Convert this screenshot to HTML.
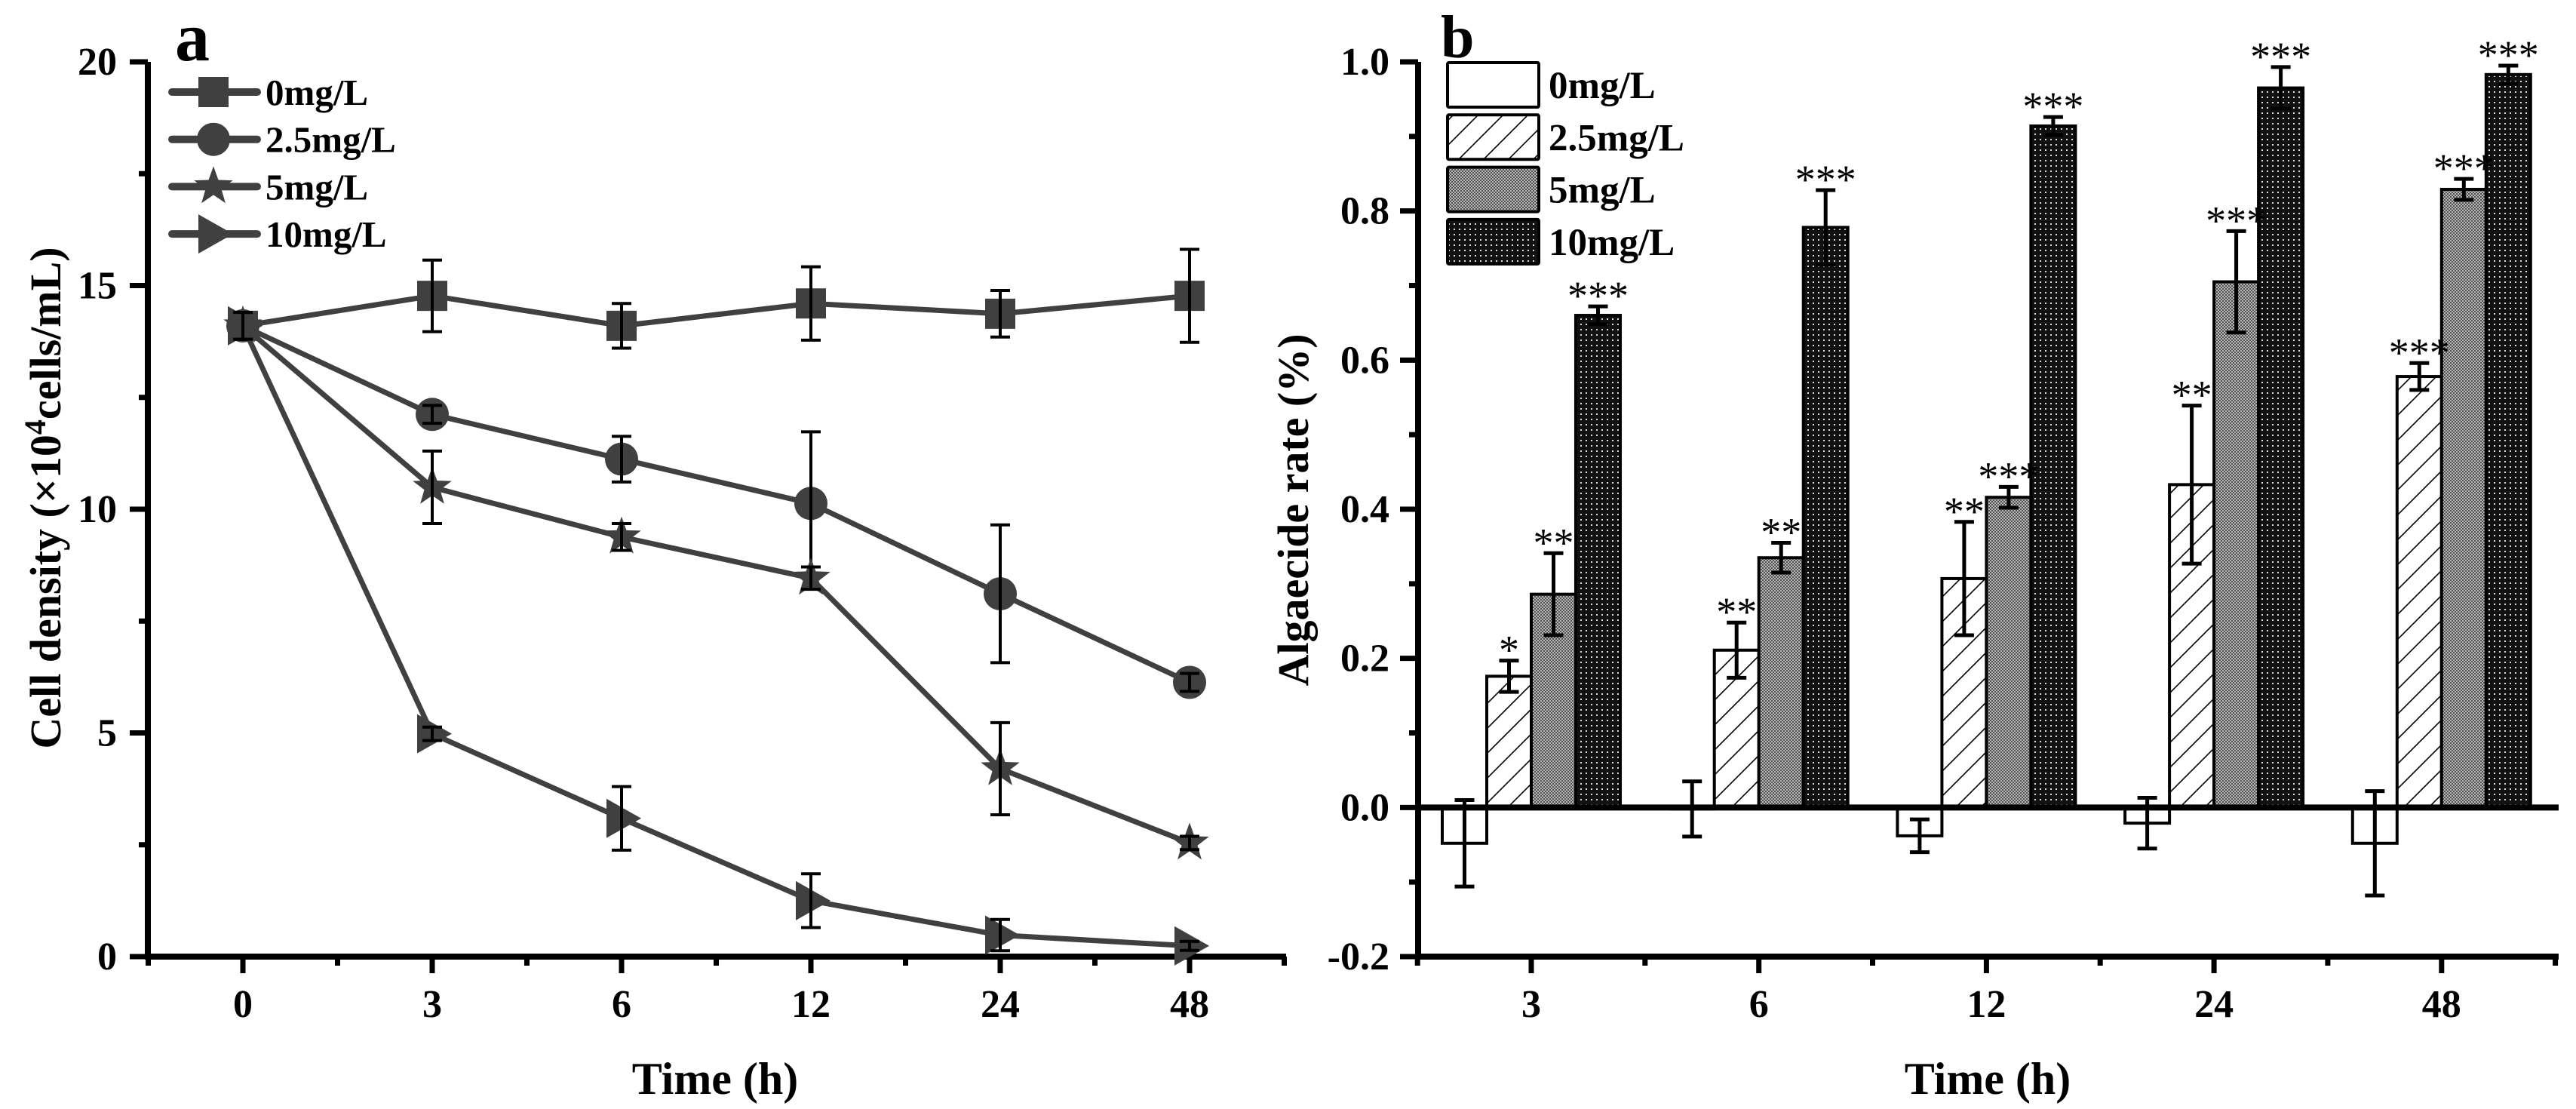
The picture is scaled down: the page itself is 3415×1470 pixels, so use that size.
<!DOCTYPE html>
<html><head><meta charset="utf-8"><style>
html,body{margin:0;padding:0;background:#fff;}
svg{display:block;font-family:"Liberation Serif",serif;}
</style></head><body>
<svg id="chart" width="3415" height="1470" viewBox="0 0 3415 1470" xmlns="http://www.w3.org/2000/svg">
<defs>
<pattern id="hatch" patternUnits="userSpaceOnUse" width="33" height="33">
<rect width="33" height="33" fill="#fff"/><path d="M-8,41 L41,-8 M-8,8 L8,-8 M25,41 L41,25" stroke="#000" stroke-width="1.6"/>
</pattern>
<pattern id="gray" patternUnits="userSpaceOnUse" width="4" height="4">
<rect width="4" height="4" fill="#b8b8b8"/><rect width="2" height="2" fill="#505050"/><rect x="2" y="2" width="2" height="2" fill="#505050"/>
</pattern>
<pattern id="dark" patternUnits="userSpaceOnUse" width="7" height="7">
<rect width="7" height="7" fill="#111"/><rect x="2" y="2" width="2" height="2" fill="#ddd"/>
</pattern>
</defs>
<g id="pa"></g>
<g id="pb"></g>
</svg>
<script>
// ---- Panel a data ----
const timeLabels = ["0","3","6","12","24","48"];
const seriesNames = ["0mg/L","2.5mg/L","5mg/L","10mg/L"];
const s0 = [14.1,14.77,14.1,14.6,14.37,14.77];
const s0err = [0.3,0.8,0.5,0.82,0.52,1.04];
const s25 = [14.1,12.12,11.12,10.13,8.11,6.13];
const s25err = [0.3,0.2,0.51,1.6,1.54,0.2];
const s5 = [14.1,10.49,9.38,8.46,4.2,2.54];
const s5err = [0.3,0.81,0.3,0.25,1.03,0.15];
const s10 = [14.1,4.98,3.09,1.25,0.48,0.24];
const s10err = [0.3,0.15,0.71,0.6,0.35,0.1];
const aTicks = [0,5,10,15,20];
// ---- Panel b data ----
const bCats = ["3","6","12","24","48"];
const b0 = [-0.048,-0.002,-0.038,-0.021,-0.048];
const b0err = [0.058,0.037,0.022,0.034,0.07];
const b25 = [0.176,0.211,0.307,0.433,0.578];
const b25err = [0.021,0.037,0.076,0.106,0.018];
const b5 = [0.286,0.335,0.416,0.705,0.829];
const b5err = [0.055,0.02,0.014,0.068,0.014];
const b10 = [0.66,0.778,0.914,0.965,0.983];
const b10err = [0.012,0.05,0.012,0.028,0.012];
const sig25 = ["*","**","**","**","***"];
const sig5 = ["**","**","***","***","***"];
const sig10 = ["***","***","***","***","***"];
const bTicks = [-0.2,0,0.2,0.4,0.6,0.8,1.0];

const NS="http://www.w3.org/2000/svg";
function mk(parent,tag,attrs,text){const e=document.createElementNS(NS,tag);for(const k in attrs)e.setAttribute(k,attrs[k]);if(text!==undefined)e.textContent=text;parent.appendChild(e);return e;}

// ===== Panel A =====
const pa=document.getElementById('pa');
const axL=196, axR=1705, axT=82, axB=1268;
const xa=i=>322+i*251;
const ya=v=>axB-(v/20)*(axB-axT);
let el;
el=mk(pa,'line',{x1:axL,y1:axT,x2:axL,y2:axB+4,stroke:'#000','stroke-width':8});

el=mk(pa,'line',{x1:axL-4,y1:axB,x2:axR,y2:axB,stroke:'#000','stroke-width':8});

for(let v=0;v<=20;v+=2.5){const maj=v%5===0;mk(pa,'line',{x1:axL-(maj?24:12),y1:ya(v),x2:axL,y2:ya(v),stroke:'#000','stroke-width':7});}
aTicks.forEach(v=>{el=mk(pa,'text',{x:155,y:ya(v)+17,'text-anchor':'end','font-size':52,'font-weight':'bold'},String(v));
});
timeLabels.forEach((t,i)=>{mk(pa,'line',{x1:xa(i),y1:axB,x2:xa(i),y2:axB+22,stroke:'#000','stroke-width':7});
 mk(pa,'line',{x1:xa(i)+125.5,y1:axB,x2:xa(i)+125.5,y2:axB+12,stroke:'#000','stroke-width':7});
 el=mk(pa,'text',{x:xa(i),y:1348,'text-anchor':'middle','font-size':52,'font-weight':'bold'},t);
 });
mk(pa,'line',{x1:xa(0)-125.5,y1:axB,x2:xa(0)-125.5,y2:axB+12,stroke:'#000','stroke-width':7});
el=mk(pa,'text',{x:948,y:1450,'text-anchor':'middle','font-size':60,'font-weight':'bold'},'Time (h)');

el=mk(pa,'text',{x:0,y:0,transform:'translate(80,660) rotate(-90)','text-anchor':'middle','font-size':58,'font-weight':'bold'});

mk(el,'tspan',{},'Cell density (×10');mk(el,'tspan',{dy:-20,'font-size':40},'4');mk(el,'tspan',{dy:20},'cells/mL)');
el=mk(pa,'text',{x:232,y:80,'font-size':92,'font-weight':'bold'},'a');


const GR='#404040';
function marker(g,type,cx,cy){
 if(type===0) return mk(g,'rect',{x:cx-20,y:cy-20,width:40,height:40,fill:GR});
 if(type===1) return mk(g,'circle',{cx:cx,cy:cy,r:22,fill:GR});
 if(type===2){let p=[];for(let k=0;k<10;k++){const r=k%2?11:27;const a=-Math.PI/2+k*Math.PI/5;p.push((cx+r*Math.cos(a)).toFixed(1)+','+(cy+r*Math.sin(a)).toFixed(1));}return mk(g,'polygon',{points:p.join(' '),fill:GR});}
 return mk(g,'polygon',{points:`${cx-20},${cy-26} ${cx+26},${cy} ${cx-20},${cy+26}`,fill:GR});
}
const allS=[s0,s25,s5,s10], allE=[s0err,s25err,s5err,s10err];
const names=['series-0mg','series-2-5mg','series-5mg','series-10mg'];
allS.forEach((s,si)=>{
 const g=mk(pa,'g',{});
 
 el=mk(g,'polyline',{points:s.map((v,i)=>xa(i)+','+ya(v)).join(' '),fill:'none',stroke:GR,'stroke-width':7});
 
 s.forEach((v,i)=>{el=marker(g,si,xa(i),ya(v));
  });
 s.forEach((v,i)=>{const e=allE[si][i];const x=xa(i);
  el=mk(g,'path',{d:`M${x},${ya(v+e)}V${ya(v-e)}M${x-13},${ya(v+e)}h26M${x-13},${ya(v-e)}h26`,stroke:'#000','stroke-width':4,fill:'none'});
  });
});
const lg=mk(pa,'g',{});

seriesNames.forEach((n,i)=>{const y=122+i*62.7;
 const g=mk(lg,'g',{});
 
 mk(g,'line',{x1:228,y1:y,x2:341,y2:y,stroke:GR,'stroke-width':10,'stroke-linecap':'round'});
 marker(g,i,283,y);
 mk(g,'text',{x:352,y:y+17,'font-size':49,'font-weight':'bold'},n);});

// ===== Panel B =====
const pb=document.getElementById('pb');
const bL=1880,bR=3392,bT=82,bB=1268;
const yb=v=>bB-((v+0.2)/1.2)*(bB-bT);
const xb=i=>2030+i*301.7;
const BW=59;
el=mk(pb,'line',{x1:bL,y1:bT,x2:bL,y2:bB+4,stroke:'#000','stroke-width':8});

el=mk(pb,'line',{x1:bL-4,y1:bB,x2:bR,y2:bB,stroke:'#000','stroke-width':8});

for(let k=0;k<=12;k++){const v=-0.2+k*0.1;const maj=k%2===0;mk(pb,'line',{x1:bL-(maj?24:12),y1:yb(v),x2:bL,y2:yb(v),stroke:'#000','stroke-width':7});}
bTicks.forEach(v=>{el=mk(pb,'text',{x:1842,y:yb(v)+17,'text-anchor':'end','font-size':52,'font-weight':'bold'},v.toFixed(1));
 });
bCats.forEach((c,i)=>{mk(pb,'line',{x1:xb(i),y1:bB,x2:xb(i),y2:bB+22,stroke:'#000','stroke-width':7});
 mk(pb,'line',{x1:xb(i)+150.8,y1:bB,x2:xb(i)+150.8,y2:bB+12,stroke:'#000','stroke-width':7});
 el=mk(pb,'text',{x:xb(i),y:1348,'text-anchor':'middle','font-size':52,'font-weight':'bold'},c);
 });
mk(pb,'line',{x1:xb(0)-150.8,y1:bB,x2:xb(0)-150.8,y2:bB+12,stroke:'#000','stroke-width':7});
el=mk(pb,'text',{x:2635,y:1450,'text-anchor':'middle','font-size':60,'font-weight':'bold'},'Time (h)');

el=mk(pb,'text',{x:0,y:0,transform:'translate(1734,676) rotate(-90)','text-anchor':'middle','font-size':58,'font-weight':'bold'},'Algaecide rate (%)');

el=mk(pb,'text',{x:1910,y:76,'font-size':80,'font-weight':'bold'},'b');

const fills=['#fff','url(#hatch)','url(#gray)','url(#dark)'];
const bS=[b0,b25,b5,b10],bE=[b0err,b25err,b5err,b10err],bSig=[null,sig25,sig5,sig10];
const bnames=['bars-0mg','bars-2-5mg','bars-5mg','bars-10mg'];
bS.forEach((s,si)=>{
 const g=mk(pb,'g',{});
 
 s.forEach((v,i)=>{const x=xb(i)+(si-1.5)*BW;const y0=yb(0),y1=yb(v);
  el=mk(g,'rect',{x:x-BW/2,y:Math.min(y0,y1),width:BW,height:Math.abs(y1-y0),fill:fills[si],stroke:'#000','stroke-width':4});
  
  const e=bE[si][i];
  el=mk(g,'path',{d:`M${x},${yb(v+e)}V${yb(v-e)}M${x-13},${yb(v+e)}h26M${x-13},${yb(v-e)}h26`,stroke:'#000','stroke-width':5,fill:'none'});
  
 });
});
mk(pb,'line',{x1:bL,y1:yb(0),x2:bR,y2:yb(0),stroke:'#000','stroke-width':8});
const sg=mk(pb,'g',{});

bS.forEach((s,si)=>{if(!bSig[si])return;
 s.forEach((v,i)=>{const x=xb(i)+(si-1.5)*BW;const e=bE[si][i];
  el=mk(sg,'text',{x:x,y:yb(v+e)+4,'text-anchor':'middle','font-size':54,'letter-spacing':0},bSig[si][i]);
  });
});
const lb=mk(pb,'g',{});

seriesNames.forEach((n,i)=>{const y=83+i*69.3;
 const g=mk(lb,'g',{});
 
 mk(g,'rect',{x:1919,y:y,width:121,height:59,fill:fills[i],stroke:'#000','stroke-width':4,rx:2});
 mk(g,'text',{x:2053,y:y+47,'font-size':51,'font-weight':'bold'},n);});
</script>
</body></html>
